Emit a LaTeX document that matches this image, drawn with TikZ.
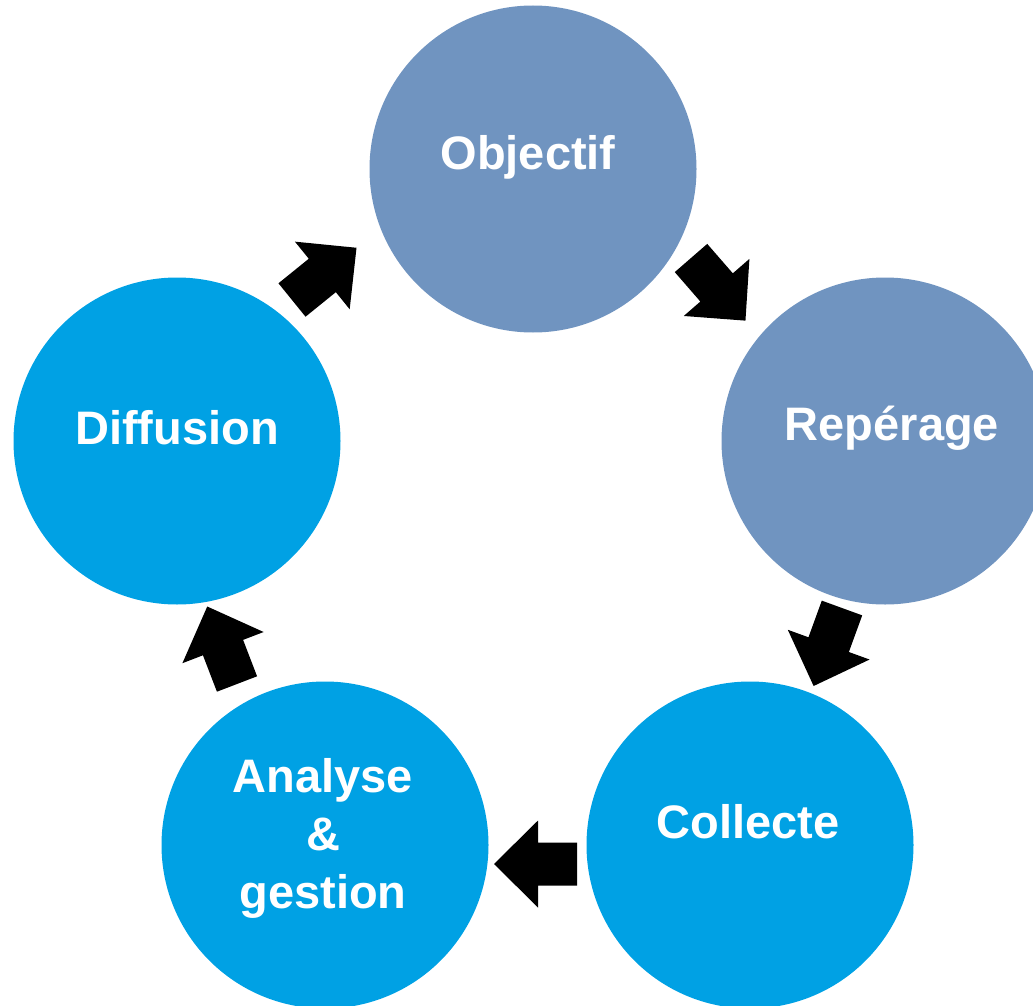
\documentclass[tikz,border=0pt]{standalone}
\usepackage{fontspec}
\setmainfont{Liberation Sans}
\definecolor{greyblue}{HTML}{7094C0}
\definecolor{brightblue}{HTML}{00A1E4}
\tikzset{
  x=1pt, y=-1pt,
  ring/.style={circle, minimum size=327pt, inner sep=0pt, draw=none},
  lbl/.style={text=white, font=\fontsize{47}{58}\selectfont\bfseries, align=center, inner sep=0pt},
  blockarrow/.style={fill=black}
}
\newcommand{\blockarr}[2]{%
  \fill[blockarrow, shift={(#1)}, rotate=#2]
    (0,-21.5) -- (39,-21.5) -- (39,-43.5) -- (83,0) -- (39,43.5) -- (39,21.5) -- (0,21.5) -- cycle;}
\begin{document}
\begin{tikzpicture}
\useasboundingbox (0,0) rectangle (1033,1006);
\node[ring, fill=greyblue] (obj) at (533,169) {};
\node[ring, fill=greyblue] (rep) at (885,441) {};
\node[ring, fill=brightblue] (col) at (750,845) {};
\node[ring, fill=brightblue] (ana) at (325,845) {};
\node[ring, fill=brightblue] (dif) at (177,441) {};
\node[lbl] at ([xshift=-5pt,yshift=12pt]obj.center) {Objectif};
\node[lbl] at ([xshift=7pt,yshift=13pt]rep.center) {Repérage};
\node[lbl] at ([xshift=-2pt,yshift=23pt]col.center) {Collecte};
\node[lbl] at ([xshift=-2pt,yshift=7pt]ana.center) {Analyse\\\&\\gestion};
\node[lbl] at ([yshift=13pt]dif.center) {Diffusion};
\coordinate (a1) at (292,300);
\coordinate (a2) at (691,258);
\coordinate (a3) at (842,608);
\coordinate (a4) at (577,864);
\coordinate (a5) at (237,684);
\blockarr{a1}{39}
\blockarr{a2}{-49}
\blockarr{a3}{-110}
\blockarr{a4}{180}
\blockarr{a5}{111}
\end{tikzpicture}
\end{document}
